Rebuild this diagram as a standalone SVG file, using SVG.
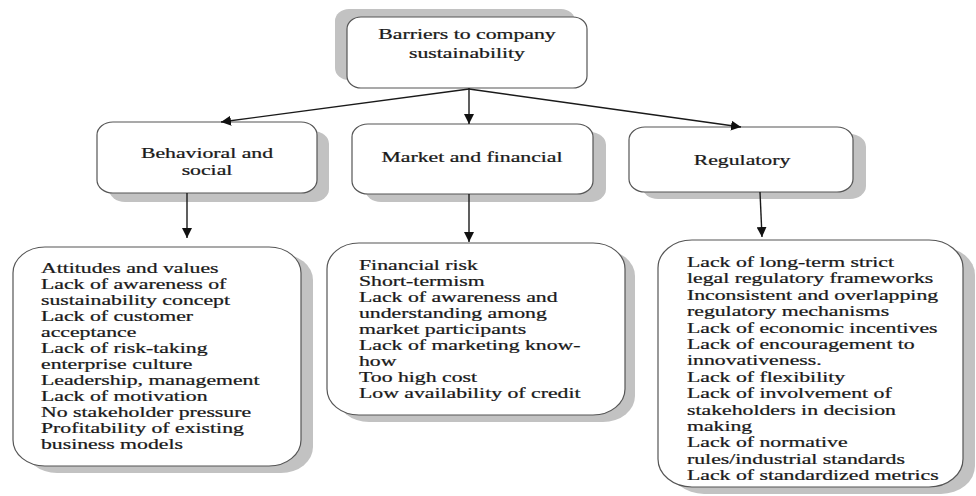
<svg xmlns="http://www.w3.org/2000/svg" width="976" height="496" viewBox="0 0 976 496">
  <defs>
    <style>
      .box { fill: #ffffff; stroke: #555555; stroke-width: 1.2; }
      .shadow { fill: #c2c2c2; stroke: none; }
      .txt { font-family: "Liberation Serif", "Times New Roman", serif; font-size: 15px; fill: #1a1a1a; stroke: #1a1a1a; stroke-width: 0.25; }
      .mid { text-anchor: middle; }
      .link { stroke: #1a1a1a; stroke-width: 1.4; fill: none; marker-end: url(#arrow); }
    </style>
    <marker id="arrow" viewBox="0 0 10 10" refX="10" refY="5" markerWidth="10" markerHeight="10" markerUnits="userSpaceOnUse" orient="auto">
      <path d="M0,0 L10,5 L0,10 z" fill="#111111"/>
    </marker>
  </defs>
  <rect width="976" height="496" fill="#ffffff"/>

  <!-- root node -->
  <g id="root">
    <rect class="shadow" x="335" y="9" width="240" height="71" rx="14" ry="12"/>
    <rect class="box" x="347" y="17" width="240" height="71" rx="14" ry="12"/>
    <g transform="translate(467,0) scale(1.45,1)">
      <text class="txt mid" x="0" y="39">Barriers to company</text>
      <text class="txt mid" x="0" y="58">sustainability</text>
    </g>
  </g>

  <!-- category nodes -->
  <g id="behavioral">
    <rect class="shadow" x="109" y="131" width="220" height="71" rx="16" ry="13"/>
    <rect class="box" x="97" y="122" width="220" height="71" rx="16" ry="13"/>
    <g transform="translate(207,0) scale(1.45,1)">
      <text class="txt mid" x="0" y="158">Behavioral and</text>
      <text class="txt mid" x="0" y="175">social</text>
    </g>
  </g>

  <g id="market">
    <rect class="shadow" x="365" y="132" width="241" height="70" rx="16" ry="13"/>
    <rect class="box" x="352" y="124" width="241" height="70" rx="16" ry="13"/>
    <g transform="translate(472,0) scale(1.45,1)">
      <text class="txt mid" x="0" y="162">Market and financial</text>
    </g>
  </g>

  <g id="regulatory">
    <rect class="shadow" x="642" y="134" width="224" height="65" rx="16" ry="13"/>
    <rect class="box" x="629" y="127" width="224" height="65" rx="16" ry="13"/>
    <g transform="translate(742,0) scale(1.45,1)">
      <text class="txt mid" x="0" y="165">Regulatory</text>
    </g>
  </g>

  <!-- detail lists -->
  <g id="behavioral-list">
    <rect class="shadow" x="25" y="254" width="288" height="219" rx="32" ry="26"/>
    <rect class="box" x="13" y="247" width="288" height="219" rx="32" ry="26"/>
    <g transform="translate(41,0) scale(1.45,1)">
      <text class="txt" x="0" y="273">Attitudes and values</text>
      <text class="txt" x="0" y="289">Lack of awareness of</text>
      <text class="txt" x="0" y="305">sustainability concept</text>
      <text class="txt" x="0" y="321">Lack of customer</text>
      <text class="txt" x="0" y="337">acceptance</text>
      <text class="txt" x="0" y="353">Lack of risk-taking</text>
      <text class="txt" x="0" y="369">enterprise culture</text>
      <text class="txt" x="0" y="385">Leadership, management</text>
      <text class="txt" x="0" y="401">Lack of motivation</text>
      <text class="txt" x="0" y="417">No stakeholder pressure</text>
      <text class="txt" x="0" y="433">Profitability of existing</text>
      <text class="txt" x="0" y="449">business models</text>
    </g>
  </g>

  <g id="market-list">
    <rect class="shadow" x="337" y="250" width="298" height="172" rx="32" ry="26"/>
    <rect class="box" x="327" y="243" width="298" height="172" rx="32" ry="26"/>
    <g transform="translate(359,0) scale(1.45,1)">
      <text class="txt" x="0" y="270">Financial risk</text>
      <text class="txt" x="0" y="286">Short-termism</text>
      <text class="txt" x="0" y="302">Lack of awareness and</text>
      <text class="txt" x="0" y="318">understanding among</text>
      <text class="txt" x="0" y="334">market participants</text>
      <text class="txt" x="0" y="350">Lack of marketing know-</text>
      <text class="txt" x="0" y="366">how</text>
      <text class="txt" x="0" y="382">Too high cost</text>
      <text class="txt" x="0" y="398">Low availability of credit</text>
    </g>
  </g>

  <g id="regulatory-list">
    <rect class="shadow" x="670" y="247" width="305" height="247" rx="34" ry="28"/>
    <rect class="box" x="658" y="240" width="305" height="247" rx="34" ry="28"/>
    <g transform="translate(687,0) scale(1.45,1)">
      <text class="txt" x="0" y="267">Lack of long-term strict</text>
      <text class="txt" x="0" y="283.4">legal regulatory frameworks</text>
      <text class="txt" x="0" y="299.8">Inconsistent and overlapping</text>
      <text class="txt" x="0" y="316.2">regulatory mechanisms</text>
      <text class="txt" x="0" y="332.6">Lack of economic incentives</text>
      <text class="txt" x="0" y="349">Lack of encouragement to</text>
      <text class="txt" x="0" y="365.4">innovativeness.</text>
      <text class="txt" x="0" y="381.8">Lack of flexibility</text>
      <text class="txt" x="0" y="398.2">Lack of involvement of</text>
      <text class="txt" x="0" y="414.6">stakeholders in decision</text>
      <text class="txt" x="0" y="431">making</text>
      <text class="txt" x="0" y="447.4">Lack of normative</text>
      <text class="txt" x="0" y="463.8">rules/industrial standards</text>
      <text class="txt" x="0" y="480.2">Lack of standardized metrics</text>
    </g>
  </g>

  <!-- connectors -->
  <g id="connectors">
    <line class="link" x1="469" y1="88" x2="469" y2="124"/>
    <line class="link" x1="469" y1="89" x2="221" y2="122"/>
    <line class="link" x1="469" y1="89" x2="741" y2="127"/>
    <line class="link" x1="187" y1="193" x2="187" y2="238"/>
    <line class="link" x1="469" y1="194" x2="469" y2="242"/>
    <line class="link" x1="760" y1="192" x2="762" y2="237"/>
  </g>
</svg>
